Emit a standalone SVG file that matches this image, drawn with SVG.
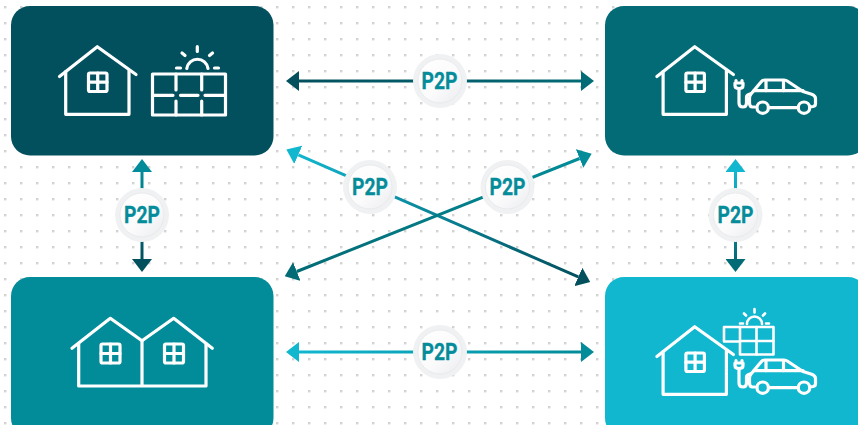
<svg xmlns="http://www.w3.org/2000/svg" xmlns:xlink="http://www.w3.org/1999/xlink" width="858" height="425" viewBox="0 0 858 425">
<style>
.ic{fill:none;stroke:#fff;stroke-width:3.2;stroke-linecap:round;stroke-linejoin:round}
.ic2{fill:none;stroke:#fff;stroke-width:2.6;stroke-linecap:round;stroke-linejoin:round}
.cn{fill:none;stroke-width:3}
.ring{fill:#f0f1f3}
.disc{fill:url(#disc);stroke:#e6e7ea;stroke-width:.8}
.lb{font-family:"Roboto","Liberation Sans",sans-serif;font-weight:700;font-size:23px;fill:#048c9b;stroke:#048c9b;stroke-width:.3;text-anchor:middle}
</style>
<defs>
<pattern id="dots" x="4" y="6" width="16" height="16" patternUnits="userSpaceOnUse"><rect x="0" y="0" width="2.4" height="2.4" fill="#d2d2d2"/></pattern>
<linearGradient id="disc" x1="0" y1="0" x2="1" y2="1"><stop offset="0" stop-color="#fff"/><stop offset=".55" stop-color="#fbfbfc"/><stop offset="1" stop-color="#ebecef"/></linearGradient>
<marker id="hDark" markerUnits="userSpaceOnUse" markerWidth="13" markerHeight="20" refX="0" refY="10" orient="auto-start-reverse"><path d="M0 0L13 10L0 20z" fill="#02505e"/></marker>
<marker id="hMid" markerUnits="userSpaceOnUse" markerWidth="13" markerHeight="20" refX="0" refY="10" orient="auto-start-reverse"><path d="M0 0L13 10L0 20z" fill="#026b75"/></marker>
<marker id="hTeal" markerUnits="userSpaceOnUse" markerWidth="13" markerHeight="20" refX="0" refY="10" orient="auto-start-reverse"><path d="M0 0L13 10L0 20z" fill="#028c99"/></marker>
<marker id="hCyan" markerUnits="userSpaceOnUse" markerWidth="13" markerHeight="20" refX="0" refY="10" orient="auto-start-reverse"><path d="M0 0L13 10L0 20z" fill="#11b6cf"/></marker>
<linearGradient id="gTop" gradientUnits="userSpaceOnUse" x1="299" y1="0" x2="581" y2="0"><stop offset="0" stop-color="#02505e"/><stop offset="1" stop-color="#026b75"/></linearGradient>
<linearGradient id="gBot" gradientUnits="userSpaceOnUse" x1="299" y1="0" x2="581" y2="0"><stop offset="0" stop-color="#11b6cf"/><stop offset="1" stop-color="#028c99"/></linearGradient>
<linearGradient id="gL" gradientUnits="userSpaceOnUse" x1="0" y1="172" x2="0" y2="259"><stop offset="0" stop-color="#028c99"/><stop offset="1" stop-color="#02505e"/></linearGradient>
<linearGradient id="gR" gradientUnits="userSpaceOnUse" x1="0" y1="172" x2="0" y2="259"><stop offset="0" stop-color="#11b6cf"/><stop offset="1" stop-color="#026b75"/></linearGradient>
<linearGradient id="gD1" gradientUnits="userSpaceOnUse" x1="298" y1="155" x2="578" y2="277"><stop offset="0" stop-color="#11b6cf"/><stop offset="1" stop-color="#02505e"/></linearGradient>
<linearGradient id="gD2" gradientUnits="userSpaceOnUse" x1="297" y1="271" x2="580" y2="158"><stop offset="0" stop-color="#026b75"/><stop offset="1" stop-color="#028c99"/></linearGradient>
<g id="house" class="ic">
<path d="M59.5 76.5L97.3 46.7L136 74.5"/>
<path d="M65.7 71.5V114.3H129V70.5"/>
<rect x="88.5" y="73" width="18.5" height="18.5" rx="1.5"/>
<path d="M97.7 73V91.5M88.5 82.2H107"/>
</g>
<g id="car" class="ic">
<path d="M736 80.5V83M742 80.5V83M735 83H743V85.5Q743 88.5 739 88.5Q735 88.5 735 85.5Z"/>
<path d="M739 88.5V103Q739 107 743 107Q746.5 107 746.5 103V97Q746.5 95 750 94"/>
<path d="M755 107H752.5Q749.5 107 749.5 103V98Q749.5 96 751 94L761 82Q762.5 80 765 80H784Q786 80 788 81.5L803 91.5L811 94Q815.5 95.5 815.5 98.5V104Q815.5 106 813 106.5L810 107"/>
<path d="M768.5 107.7H797.5"/>
<path d="M754 90.7H803"/>
<path d="M766 81V90.7M783.5 81V90.7"/>
<circle cx="762.7" cy="107.7" r="5.7"/>
<circle cx="804" cy="107.7" r="5.7"/>
</g>
</defs>
<rect width="858" height="425" fill="#fff"/>
<rect width="858" height="425" fill="url(#dots)"/>
<g id="connectors">
<line class="cn" x1="299" y1="81" x2="581" y2="81" stroke="url(#gTop)" marker-start="url(#hDark)" marker-end="url(#hMid)"/>
<line class="cn" x1="299" y1="352" x2="581" y2="352" stroke="url(#gBot)" marker-start="url(#hCyan)" marker-end="url(#hTeal)"/>
<line class="cn" x1="142" y1="172" x2="142" y2="259" stroke="url(#gL)" marker-start="url(#hTeal)" marker-end="url(#hDark)"/>
<line class="cn" x1="735.5" y1="172" x2="735.5" y2="259" stroke="url(#gR)" marker-start="url(#hCyan)" marker-end="url(#hMid)"/>
<line class="cn" x1="298.3" y1="154.8" x2="578.3" y2="276.9" stroke="url(#gD1)" marker-start="url(#hCyan)" marker-end="url(#hDark)"/>
<line class="cn" x1="296.8" y1="271.5" x2="579.6" y2="158.5" stroke="url(#gD2)" marker-start="url(#hMid)" marker-end="url(#hTeal)"/>
</g>
<g id="bubble-top"><circle class="ring" cx="440" cy="81" r="27"/><circle class="disc" cx="440" cy="81" r="22"/><text class="lb" x="439.5" y="89" textLength="36" lengthAdjust="spacingAndGlyphs">P2P</text></g>
<g id="bubble-bottom"><circle class="ring" cx="440" cy="352" r="27"/><circle class="disc" cx="440" cy="352" r="22"/><text class="lb" x="439.5" y="360" textLength="36" lengthAdjust="spacingAndGlyphs">P2P</text></g>
<g id="bubble-left"><circle class="ring" cx="142" cy="215" r="27"/><circle class="disc" cx="142" cy="215" r="22"/><text class="lb" x="142" y="223" textLength="36" lengthAdjust="spacingAndGlyphs">P2P</text></g>
<g id="bubble-right"><circle class="ring" cx="735.5" cy="215" r="27"/><circle class="disc" cx="735.5" cy="215" r="22"/><text class="lb" x="735.5" y="223" textLength="36" lengthAdjust="spacingAndGlyphs">P2P</text></g>
<g id="bubble-d1"><circle class="ring" cx="370" cy="187" r="27"/><circle class="disc" cx="370" cy="187" r="22"/><text class="lb" x="370" y="195" textLength="36" lengthAdjust="spacingAndGlyphs">P2P</text></g>
<g id="bubble-d2"><circle class="ring" cx="507.5" cy="187" r="27"/><circle class="disc" cx="507.5" cy="187" r="22"/><text class="lb" x="507.5" y="195" textLength="36" lengthAdjust="spacingAndGlyphs">P2P</text></g>
<g id="node-house-solar">
<rect x="11" y="6" width="262.5" height="149.5" rx="19" fill="#02505e"/>
<use href="#house"/>
<g class="ic">
<path d="M152.5 74H225.5V115H152.5Z"/>
<path d="M176 74V90M176 101V115M201.7 74V90M201.7 101V115"/>
<path d="M152.5 95.3H173M180.5 95.3H198M205 95.3H225.5"/>
<path d="M186.8 68.5A10.7 10.7 0 0 1 208 68.5"/>
<path d="M197.3 46.7V51.5M182 53L185 55.5M212.5 53L209.5 55.5M176.5 68H180.5M214.5 68H218.5"/>
</g>
</g>
<g id="node-house-ev">
<rect x="605" y="6" width="262" height="149.5" rx="19" fill="#026b75"/>
<use href="#house" x="597.4"/>
<use href="#car"/>
</g>
<g id="node-twin-houses">
<rect x="11" y="277" width="262.5" height="160" rx="19" fill="#028c99"/>
<g class="ic">
<path d="M72 348.3L110.3 318.3L142 340.7L173.7 318.3L212.3 348.3"/>
<path d="M78.7 343.5V386H206V343.5M142 340.7V386"/>
<rect x="101" y="344" width="19" height="19" rx="1.5"/>
<path d="M110.5 344V363M101 353.5H120"/>
<rect x="164.5" y="344" width="19" height="19" rx="1.5"/>
<path d="M174 344V363M164.5 353.5H183.5"/>
</g>
</g>
<g id="node-house-solar-ev">
<rect x="605" y="277" width="262" height="160" rx="19" fill="#11b6cf"/>
<use href="#house" x="597.4" y="280"/>
<use href="#car" y="280"/>
<g class="ic2">
<path d="M724 327H773.5V354.5H740V341.5H724Z"/>
<path d="M740 327V341.5M756.5 327V354.5M740 341H773.5"/>
<path d="M747 324A7.5 7.5 0 0 1 762 324"/>
<path d="M754.5 309V312.5M744 313.5L746 315.5M765 313.5L763 315.5M740 323.5H743M766 323.5H769"/>
</g>
</g>
</svg>
